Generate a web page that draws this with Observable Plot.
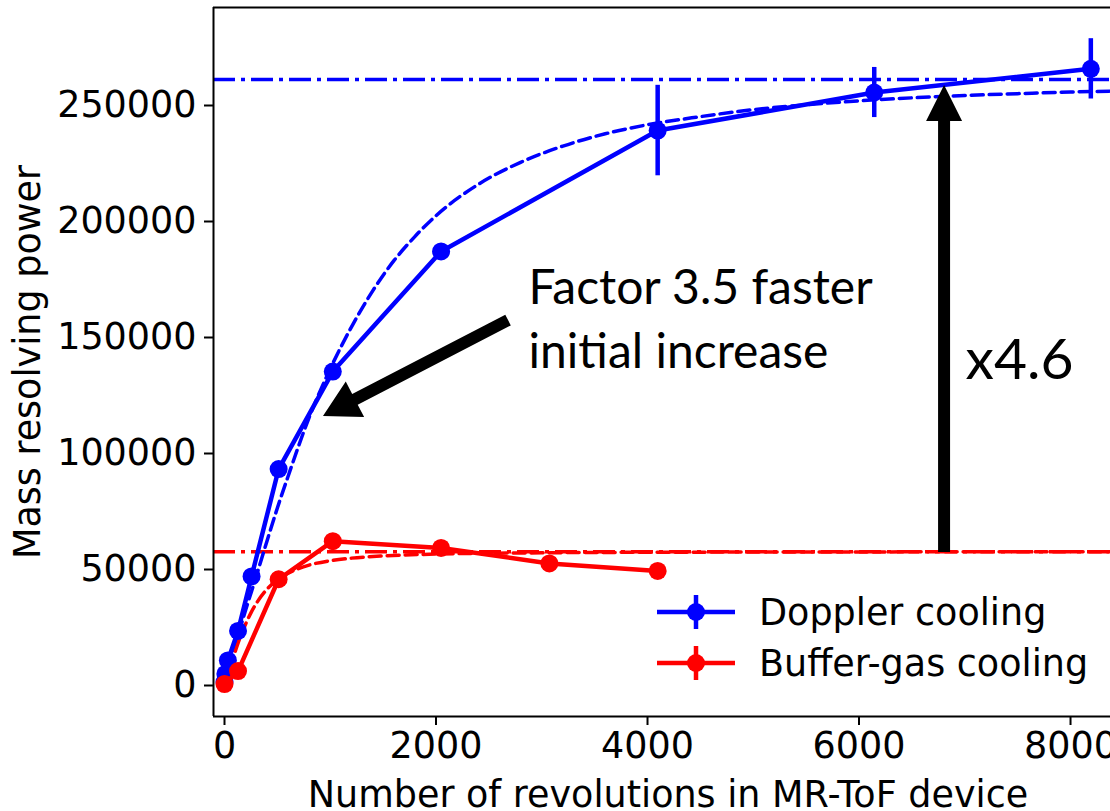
<!DOCTYPE html>
<html><head><meta charset="utf-8">
<script src="https://cdn.jsdelivr.net/npm/d3@7"></script>
<script src="https://cdn.jsdelivr.net/npm/@observablehq/plot@0.6"></script>
<style>body{margin:0;background:#fff;overflow:hidden}</style>
</head><body><div id="chart"></div>
<script>
// Doppler cooling measurements
const dopplerN   = [0, 8, 32, 128, 256, 512, 1024, 2048, 4096, 6144, 8192];
const dopplerR   = [1500, 5000, 10800, 23500, 47000, 93300, 135300, 187100, 239200, 255600, 265800];
const dopplerErr = [500, 800, 1000, 1500, 2000, 2500, 3000, 3000, 19500, 10800, 13000];
// Buffer-gas cooling measurements
const bufferN   = [0, 128, 512, 1024, 2048, 3072, 4096];
const bufferR   = [600, 6200, 45800, 62200, 59300, 52600, 49400];
const bufferErr = [500, 800, 1200, 1500, 1500, 1500, 1500];
// Fitted curves (dashed)
const dopplerFitN = [0, 100, 200, 300, 400, 500, 600, 800, 1000, 1200, 1400, 1600, 1800, 2000, 2400, 2800, 3200, 3600, 4000, 4500, 5000, 5500, 6000, 6500, 7000, 7500, 8000, 8400];
const dopplerFitR = [0, 17000, 32500, 47000, 62000, 76500, 90000, 115500, 136500, 154500, 170000, 183000, 193500, 202500, 216000, 225500, 232500, 237800, 241700, 245200, 248200, 250300, 252000, 253300, 254300, 255100, 255800, 256200];
const bufferFitN = [0, 50, 100, 150, 200, 250, 300, 400, 500, 600, 700, 800, 1000, 1200, 1500, 2000, 3000, 4000, 5000, 6000, 8400];
const bufferFitR = [0, 7500, 14500, 21000, 26500, 31300, 35300, 41400, 45600, 48400, 50400, 51900, 53800, 54900, 55850, 56650, 57200, 57430, 57520, 57580, 57640];
// Asymptotic limits (dash-dot)
const limitNames = ["Doppler cooling", "Buffer-gas cooling"];
const limitR = [261200, 57700];
// Axis ticks and domains
const xTicks = [0, 2000, 4000, 6000, 8000];
const yTicks = [0, 50000, 100000, 150000, 200000, 250000];
const xDomain = [-104, 8378];
const yDomain = [-13362, 292241];
// Annotations (data coordinates)
const arrowTail = [[2686, 157300], [6809, 57300]];
const arrowTip  = [[936, 116000], [6809, 258600]];
const noteText = ["Factor 3.5 faster", "initial increase", "x4.6"];
const noteN = [2875, 2875, 7007];
const noteR = [171100, 143500, 140100];
const noteSize = [48, 48, 57];

const BLUE = "#0000ff", RED = "#ff0000";
const FS = 36.5;
const dop = dopplerN.map((n, i) => ({n, r: dopplerR[i], e: dopplerErr[i]}));
const buf = bufferN.map((n, i) => ({n, r: bufferR[i], e: bufferErr[i]}));
const dopFit = dopplerFitN.map((n, i) => ({n, r: dopplerFitR[i]}));
const bufFit = bufferFitN.map((n, i) => ({n, r: bufferFitR[i]}));
const notes = noteText.map((t, i) => ({t, n: noteN[i], r: noteR[i], s: noteSize[i]}));

function arrowsMark(index, scales, values, dims) {
  const g = d3.create("svg:g").attr("aria-label", "arrows");
  const specs = [{w: 12, L: 36, H: 20}, {w: 12, L: 36, H: 18}];
  arrowTail.forEach((t, i) => {
    const x1 = scales.x(t[0]), y1 = scales.y(t[1]);
    const x2 = scales.x(arrowTip[i][0]), y2 = scales.y(arrowTip[i][1]);
    const len = Math.hypot(x2 - x1, y2 - y1);
    const ux = (x2 - x1) / len, uy = (y2 - y1) / len;
    const nx = -uy, ny = ux;
    const {w, L, H} = specs[i];
    const bx = x2 - ux * L, by = y2 - uy * L;
    const pts = [
      [x1 + nx * w / 2, y1 + ny * w / 2],
      [bx + nx * w / 2, by + ny * w / 2],
      [bx + nx * H, by + ny * H],
      [x2, y2],
      [bx - nx * H, by - ny * H],
      [bx - nx * w / 2, by - ny * w / 2],
      [x1 - nx * w / 2, y1 - ny * w / 2]
    ];
    g.append("polygon").attr("points", pts.map(p => p.join(",")).join(" ")).attr("fill", "#000");
  });
  return g.node();
}

function legendMark(index, scales, values, dims) {
  const g = d3.create("svg:g").attr("aria-label", "legend");
  const items = [{label: limitNames[0], c: BLUE}, {label: limitNames[1], c: RED}];
  const x0 = dims.width - 453, rows = [dims.height - 199, dims.height - 148];
  items.forEach((it, i) => {
    const y = rows[i];
    g.append("line").attr("x1", x0).attr("x2", x0 + 78).attr("y1", y).attr("y2", y).attr("stroke", it.c).attr("stroke-width", 4.5);
    g.append("line").attr("x1", x0 + 39).attr("x2", x0 + 39).attr("y1", y - 17).attr("y2", y + 17).attr("stroke", it.c).attr("stroke-width", 4.5);
    g.append("circle").attr("cx", x0 + 39).attr("cy", y).attr("r", 9).attr("fill", it.c);
    g.append("text").attr("x", x0 + 102).attr("y", y).attr("dy", "0.35em").attr("text-anchor", "start")
      .attr("font-family", "DejaVu Sans").attr("font-size", FS).attr("fill", "#000").text(it.label);
  });
  return g.node();
}

const chart = Plot.plot({
  width: 1110, height: 811,
  marginLeft: 213, marginRight: 0, marginTop: 7, marginBottom: 95,
  style: {fontFamily: "DejaVu Sans", fontSize: FS + "px", color: "#000", background: "#fff"},
  x: {domain: xDomain},
  y: {domain: yDomain},
  marks: [
    Plot.axisX(xTicks, {tickSize: 9, tickPadding: 7, strokeWidth: 2, fontSize: FS, tickFormat: d => String(d), label: null}),
    Plot.axisY(yTicks, {tickSize: 9, tickPadding: 8, strokeWidth: 2, fontSize: FS, tickFormat: d => String(d), label: null}),
    Plot.ruleY(limitR, {stroke: (d, i) => i === 0 ? BLUE : RED, strokeWidth: 3.5, strokeDasharray: "22,6,4,6"}),
    Plot.line(dopFit, {x: "n", y: "r", stroke: BLUE, strokeWidth: 3.5, strokeDasharray: "12,6", curve: "monotone-x", clip: true}),
    Plot.line(bufFit, {x: "n", y: "r", stroke: RED, strokeWidth: 3.5, strokeDasharray: "12,6", curve: "monotone-x", clip: true}),
    Plot.line(dop, {x: "n", y: "r", stroke: BLUE, strokeWidth: 4.5}),
    Plot.ruleX(dop, {x: "n", y1: d => d.r - d.e, y2: d => d.r + d.e, stroke: BLUE, strokeWidth: 4.5}),
    Plot.dot(dop, {x: "n", y: "r", r: 9, fill: BLUE}),
    Plot.line(buf, {x: "n", y: "r", stroke: RED, strokeWidth: 4.5}),
    Plot.ruleX(buf, {x: "n", y1: d => d.r - d.e, y2: d => d.r + d.e, stroke: RED, strokeWidth: 4.5}),
    Plot.dot(buf, {x: "n", y: "r", r: 9, fill: RED}),
    Plot.ruleX([xDomain[0]], {stroke: "#000", strokeWidth: 2}),
    Plot.ruleY([yDomain[1], yDomain[0]], {stroke: "#000", strokeWidth: 2}),
    arrowsMark,
    Plot.text(notes, {x: "n", y: "r", text: "t", fontSize: "s", fontFamily: "Lato", textAnchor: "start", fill: "#000"}),
    Plot.text(["Mass resolving power"], {frameAnchor: "left", dx: -185, rotate: -90, textAnchor: "middle", lineAnchor: "middle", fontSize: FS, fill: "#000"}),
    Plot.text(["Number of revolutions in MR-ToF device"], {frameAnchor: "bottom", dx: 6, dy: 79, textAnchor: "middle", lineAnchor: "middle", fontSize: FS, fill: "#000"}),
    legendMark
  ]
});
document.getElementById("chart").appendChild(chart);
</script>
</body></html>
